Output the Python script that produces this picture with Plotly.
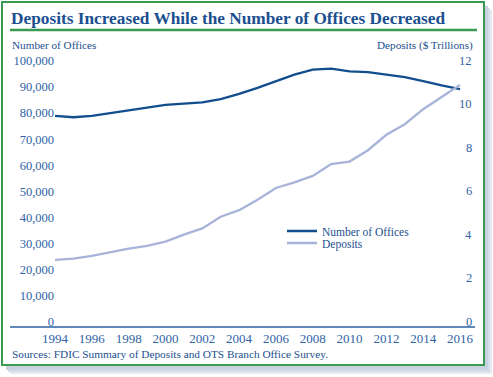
import plotly.graph_objects as go

years = list(range(1994, 2017))
offices = [78900, 78400, 78900, 79900, 81000, 82100, 83200, 83600, 84100, 85400,
           87400, 89700, 92300, 94800, 96700, 97100, 96000, 95700, 94800, 93800,
           92300, 90600, 89200]
deposits = [2.84, 2.90, 3.02, 3.20, 3.36, 3.48, 3.68, 4.00, 4.29, 4.83, 5.13, 5.61,
            6.15, 6.41, 6.71, 7.25, 7.37, 7.89, 8.60, 9.09, 9.78, 10.34, 10.90]
x_ticks = list(range(1994, 2017, 2))
left_ticks = list(range(0, 100001, 10000))
left_tick_text = [f"{v:,}" for v in left_ticks]
right_ticks = list(range(0, 13, 2))

W, H = 493, 377
L, R, T, B = 55, 475, 61, 327  # plot area in px

def px(x):
    return (x - L) / (R - L)

def py(y):
    return (B - y) / (B - T)

FONT = "Liberation Serif"
TICK_C = "#2f63a6"
DARK = "#1b4f8f"
GREEN = "#3a9a52"

fig = go.Figure()
fig.add_trace(go.Scatter(x=years, y=offices, mode="lines", name="Number of Offices",
                         line=dict(color="#124d8e", width=2.3), yaxis="y", legend="legend"))
fig.add_trace(go.Scatter(x=years, y=deposits, mode="lines", name="Deposits",
                         line=dict(color="#a8b3d9", width=2.3), yaxis="y2", legend="legend2"))

shapes = []
# shadow
for off, col in [(8, "#e6ebf2"), (6, "#d6dee9"), (4, "#c8d2e0")]:
    shapes.append(dict(type="rect", xref="paper", yref="paper", layer="below",
                       x0=px(2 + off), x1=px(484 + off), y0=py(366 + off), y1=py(2 + off),
                       fillcolor=col, line=dict(width=0)))
# frame
shapes.append(dict(type="rect", xref="paper", yref="paper", layer="below",
                   x0=px(2), x1=px(484), y0=py(365), y1=py(2),
                   fillcolor="white", line=dict(color=GREEN, width=2)))
# title underline
shapes.append(dict(type="line", xref="paper", yref="paper",
                   x0=px(10), x1=px(477), y0=py(30), y1=py(30),
                   line=dict(color=GREEN, width=2.5)))
# axis line
shapes.append(dict(type="line", xref="paper", yref="paper",
                   x0=px(10), x1=px(475), y0=py(327), y1=py(327),
                   line=dict(color="#2a5fa0", width=1.5)))

annotations = [
    dict(text="<b>Deposits Increased While the Number of Offices Decreased</b>",
         xref="paper", yref="paper", x=px(9), y=py(18), xanchor="left", yanchor="middle",
         showarrow=False, font=dict(family=FONT, size=17.3, color=DARK)),
    dict(text="Number of Offices", xref="paper", yref="paper", x=px(10), y=py(45),
         xanchor="left", yanchor="middle", showarrow=False,
         font=dict(family=FONT, size=11.2, color=DARK)),
    dict(text="Deposits ($ Trillions)", xref="paper", yref="paper", x=px(475), y=py(45),
         xanchor="right", yanchor="middle", showarrow=False,
         font=dict(family=FONT, size=11.2, color=DARK)),
    dict(text="Sources: FDIC Summary of Deposits and OTS Branch Office Survey.",
         xref="paper", yref="paper", x=px(10), y=py(354), xanchor="left", yanchor="middle",
         showarrow=False, font=dict(family=FONT, size=11.3, color=DARK)),
]
# right-axis tick labels (right-aligned, as in the reference)
for v in right_ticks:
    annotations.append(dict(text=str(v), xref="paper", yref="y2", x=px(474), y=v,
                            xanchor="right", yanchor="middle", showarrow=False,
                            font=dict(family=FONT, size=12.5, color=TICK_C)))

legend_common = dict(xanchor="left", yanchor="middle", bgcolor="rgba(0,0,0,0)",
                     font=dict(family=FONT, size=11.5, color=DARK), itemwidth=30)

fig.update_layout(
    width=W, height=H,
    margin=dict(l=L, r=W - R, t=T, b=H - B, pad=0),
    paper_bgcolor="white", plot_bgcolor="rgba(0,0,0,0)",
    font=dict(family=FONT, color=TICK_C),
    showlegend=True,
    legend=dict(x=px(282), y=py(231), **legend_common),
    legend2=dict(x=px(282), y=py(243), **legend_common),
    xaxis=dict(range=[1994, 1994 + (R - L) / 18.41], tickvals=x_ticks,
               ticktext=[str(v) for v in x_ticks], showgrid=False, zeroline=False,
               showline=False, ticks="", ticklabelstandoff=2,
               tickfont=dict(family=FONT, size=13, color=TICK_C)),
    yaxis=dict(range=[-2100, 100000], tickvals=left_ticks, ticktext=left_tick_text,
               showgrid=False, zeroline=False, showline=False, ticks="",
               tickfont=dict(family=FONT, size=12.5, color=TICK_C)),
    yaxis2=dict(range=[-0.252, 12], tickvals=right_ticks, overlaying="y", side="right",
                showticklabels=False, showgrid=False, zeroline=False, showline=False,
                ticks=""),
    shapes=shapes, annotations=annotations,
)

fig.write_html("out.html", config={"displayModeBar": False},
               post_script="document.body.style.margin='0';")
